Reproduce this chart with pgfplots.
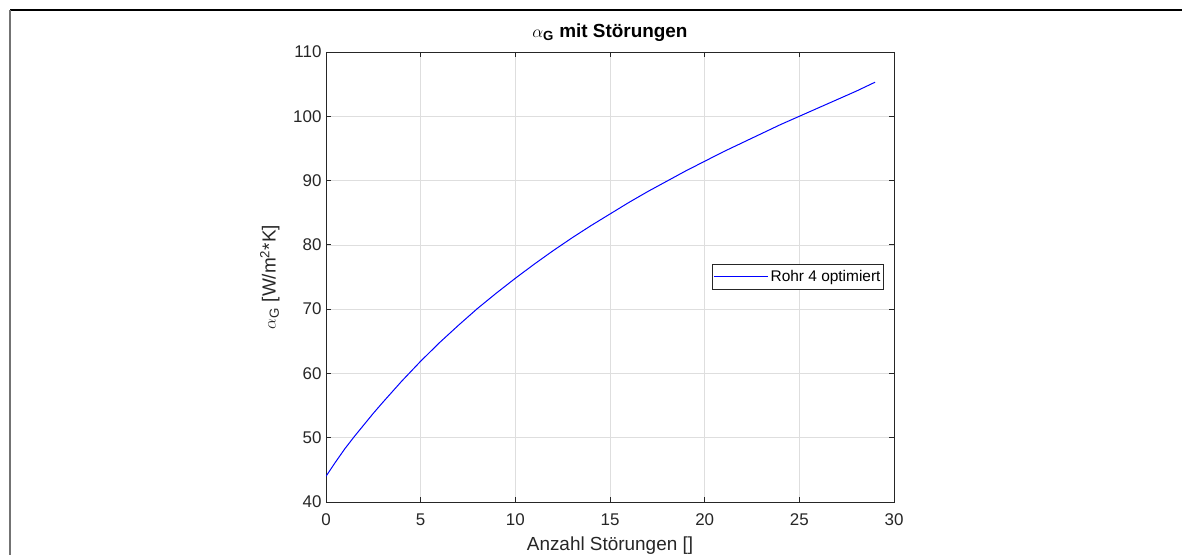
\documentclass[border=0pt]{standalone}
\usepackage{fontspec}
\setmainfont{Liberation Sans}
\usepackage{amsmath}
\usepackage{pgfplots}
\pgfplotsset{compat=1.18}

\definecolor{mlaxis}{rgb}{0.15,0.15,0.15}
\definecolor{mlgrid}{rgb}{0.87,0.87,0.87}

\begin{document}
\begin{tikzpicture}[x=1bp,y=1bp]
\useasboundingbox (0,0) rectangle (1182,555);
% frame of the screenshot
\draw[black, line width=1.2bp] (10,545) -- (1182,545);
\draw[black!55, line width=1.8bp] (10,545) -- (10,0);

\begin{axis}[
  at={(326bp,53bp)}, anchor=south west,
  scale only axis, width=568bp, height=450bp,
  xmin=0, xmax=30, ymin=40, ymax=110,
  xtick={0,5,...,30}, ytick={40,50,...,110},
  grid=major, grid style={color=mlgrid, line width=0.6bp},
  axis line style={color=mlaxis, line width=0.8bp},
  tick align=inside, major tick length=5bp,
  every tick/.style={color=mlaxis, line width=0.8bp},
  /pgf/number format/assume math mode=true,
  tick label style={font=\fontsize{17}{20}\selectfont, color=mlaxis},
  xticklabel style={yshift=-8bp},
  yticklabel style={xshift=-1bp},
  title={$\alpha_{\text{G}}$ mit Störungen},
  title style={font=\bfseries\fontsize{19}{22}\selectfont, at={(axis description cs:0.5,1.0333)}, anchor=base, yshift=-6bp},
  xlabel={Anzahl Störungen []},
  xlabel style={font=\fontsize{19}{22}\selectfont, color=mlaxis, at={(axis description cs:0.5,-0.1067)}, anchor=base},
  ylabel={$\alpha_{\text{G}}$ [W/m\textsuperscript{2}*K]},
  ylabel style={font=\fontsize{19}{22}\selectfont, color=mlaxis, at={(axis description cs:-0.099,0.5)}, anchor=center},
  legend style={at={(axis description cs:0.982,0.5)}, anchor=east,
    draw=mlaxis, line width=0.6bp, fill=white,
    font=\fontsize{15.5}{18}\selectfont, inner xsep=1bp, inner ysep=4bp},
  legend cell align=left,
  legend image code/.code={\draw[draw=blue, line width=1bp] (-10bp,0bp) -- (44bp,0bp);},
]
\addplot[color=blue, line width=1bp] coordinates {
  (0,44.0) (0.5,46.2) (1,48.3) (1.5,50.2) (2,52.0) (2.5,53.8) (3,55.5)
  (4,58.8) (5,61.9) (6,64.8) (7,67.5) (8,70.1) (9,72.5) (10,74.8)
  (11,77.0) (12,79.1) (13,81.1) (14,83.0) (15,84.8) (16,86.6) (17,88.3)
  (18,89.9) (19,91.5) (20,93.0) (21,94.5) (22,95.9) (23,97.3) (24,98.7)
  (25,100.0) (26,101.3) (27,102.6) (28,103.9) (29,105.3)
};
\addlegendentry{Rohr 4 optimiert}
\end{axis}
\end{tikzpicture}
\end{document}
